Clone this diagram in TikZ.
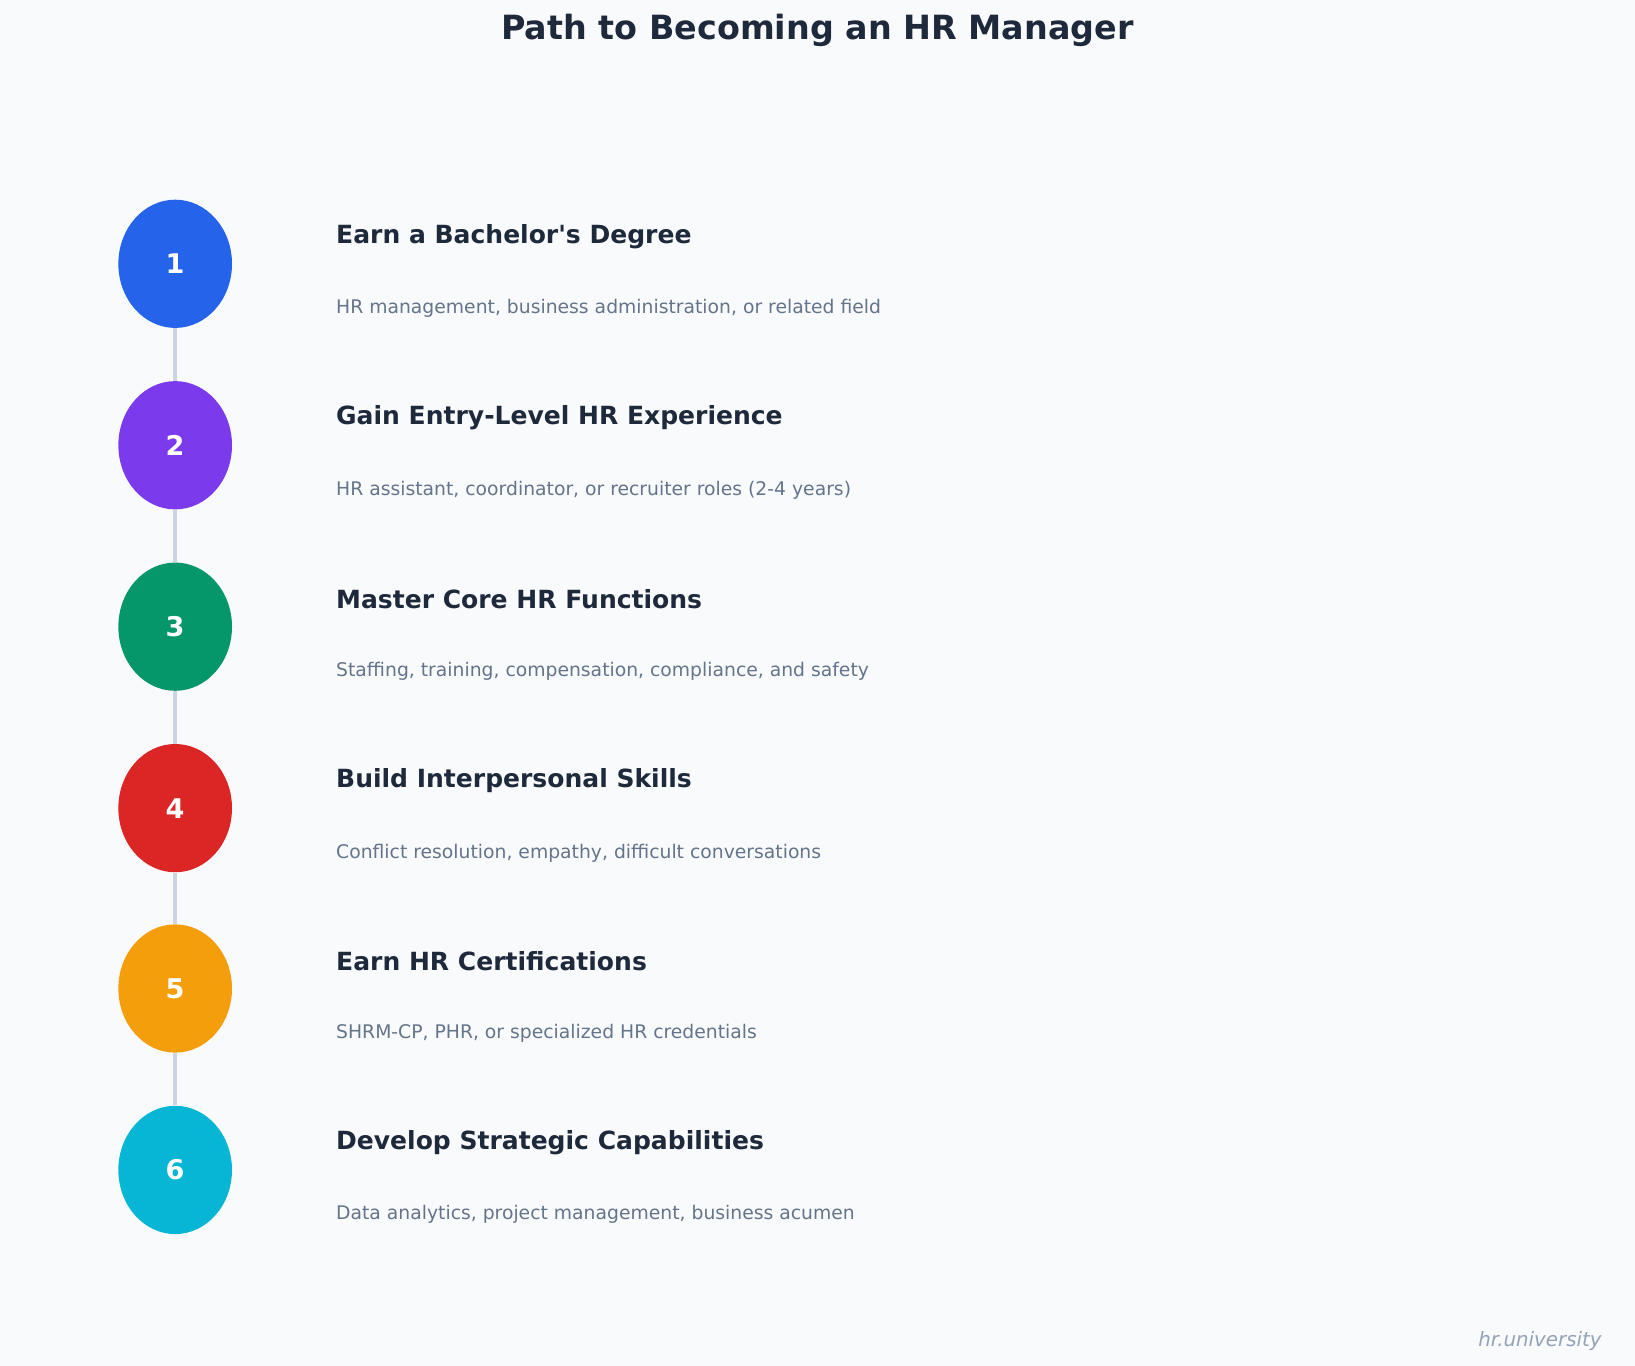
\documentclass[tikz,border=0pt]{standalone}
\usepackage{fontspec}
\setmainfont{DejaVu Sans}
\usetikzlibrary{shapes.geometric}
\definecolor{bgcol}{HTML}{F9FAFC}
\definecolor{ink}{HTML}{1E293B}
\definecolor{subink}{HTML}{64748B}
\definecolor{faint}{HTML}{94A3B8}
\definecolor{railcol}{HTML}{CBD5E1}
\definecolor{cA}{HTML}{2563EB}
\definecolor{cB}{HTML}{7C3AED}
\definecolor{cC}{HTML}{059669}
\definecolor{cD}{HTML}{DC2626}
\definecolor{cE}{HTML}{F59E0B}
\definecolor{cF}{HTML}{06B6D4}
\begin{document}
\begin{tikzpicture}[x=0.5pt, y=-0.5pt]

  \tikzset{stepdot/.style={ellipse, minimum width=54.5pt, minimum height=61.5pt,
      inner sep=0, text=white, font=\fontsize{13}{15}\selectfont\bfseries},
    headtext/.style={anchor=west, inner sep=0, text=ink,
      font=\fontsize{12}{14}\selectfont\bfseries},
    subtext/.style={anchor=west, inner sep=0, text=subink,
      font=\fontsize{9}{11}\selectfont},
    rail/.style={railcol, line width=2pt}}

  \fill[bgcol] (0,0) rectangle (1568,1310);

  \node[text=ink, font=\fontsize{16}{18}\selectfont\bfseries] (title) at (784,29)
    {Path to Becoming an HR Manager};

  \foreach \i/\y/\col/\head/\sub in {
      1/253/cA/{Earn a Bachelor\textquotesingle s Degree}/{HR management, business administration, or related field},
      2/427/cB/{Gain Entry-Level HR Experience}/{HR assistant, coordinator, or recruiter roles (2-4 years)},
      3/601/cC/{Master Core HR Functions}/{Staffing, training, compensation, compliance, and safety},
      4/775/cD/{Build Interpersonal Skills}/{Conflict resolution, empathy, difficult conversations},
      5/948/cE/{Earn HR Certifications}/{SHRM-CP, PHR, or specialized HR credentials},
      6/1122/cF/{Develop Strategic Capabilities}/{Data analytics, project management, business acumen}}{
    \node[stepdot, fill=\col] (dot\i) at (168,\y) {\i};
    \node[headtext] (head\i) at (322,\y-26) {\head};
    \node[subtext] (sub\i) at (322,\y+43) {\sub};
  }

  % connecting rail between the steps
  \foreach \a/\b in {1/2,2/3,3/4,4/5,5/6}
    \draw[rail] (dot\a.south) -- (dot\b.north);

  \node[anchor=east, text=faint, font=\fontsize{9.5}{11}\selectfont\itshape] (site)
    at (1543,1286) {hr.university};

\end{tikzpicture}
\end{document}
